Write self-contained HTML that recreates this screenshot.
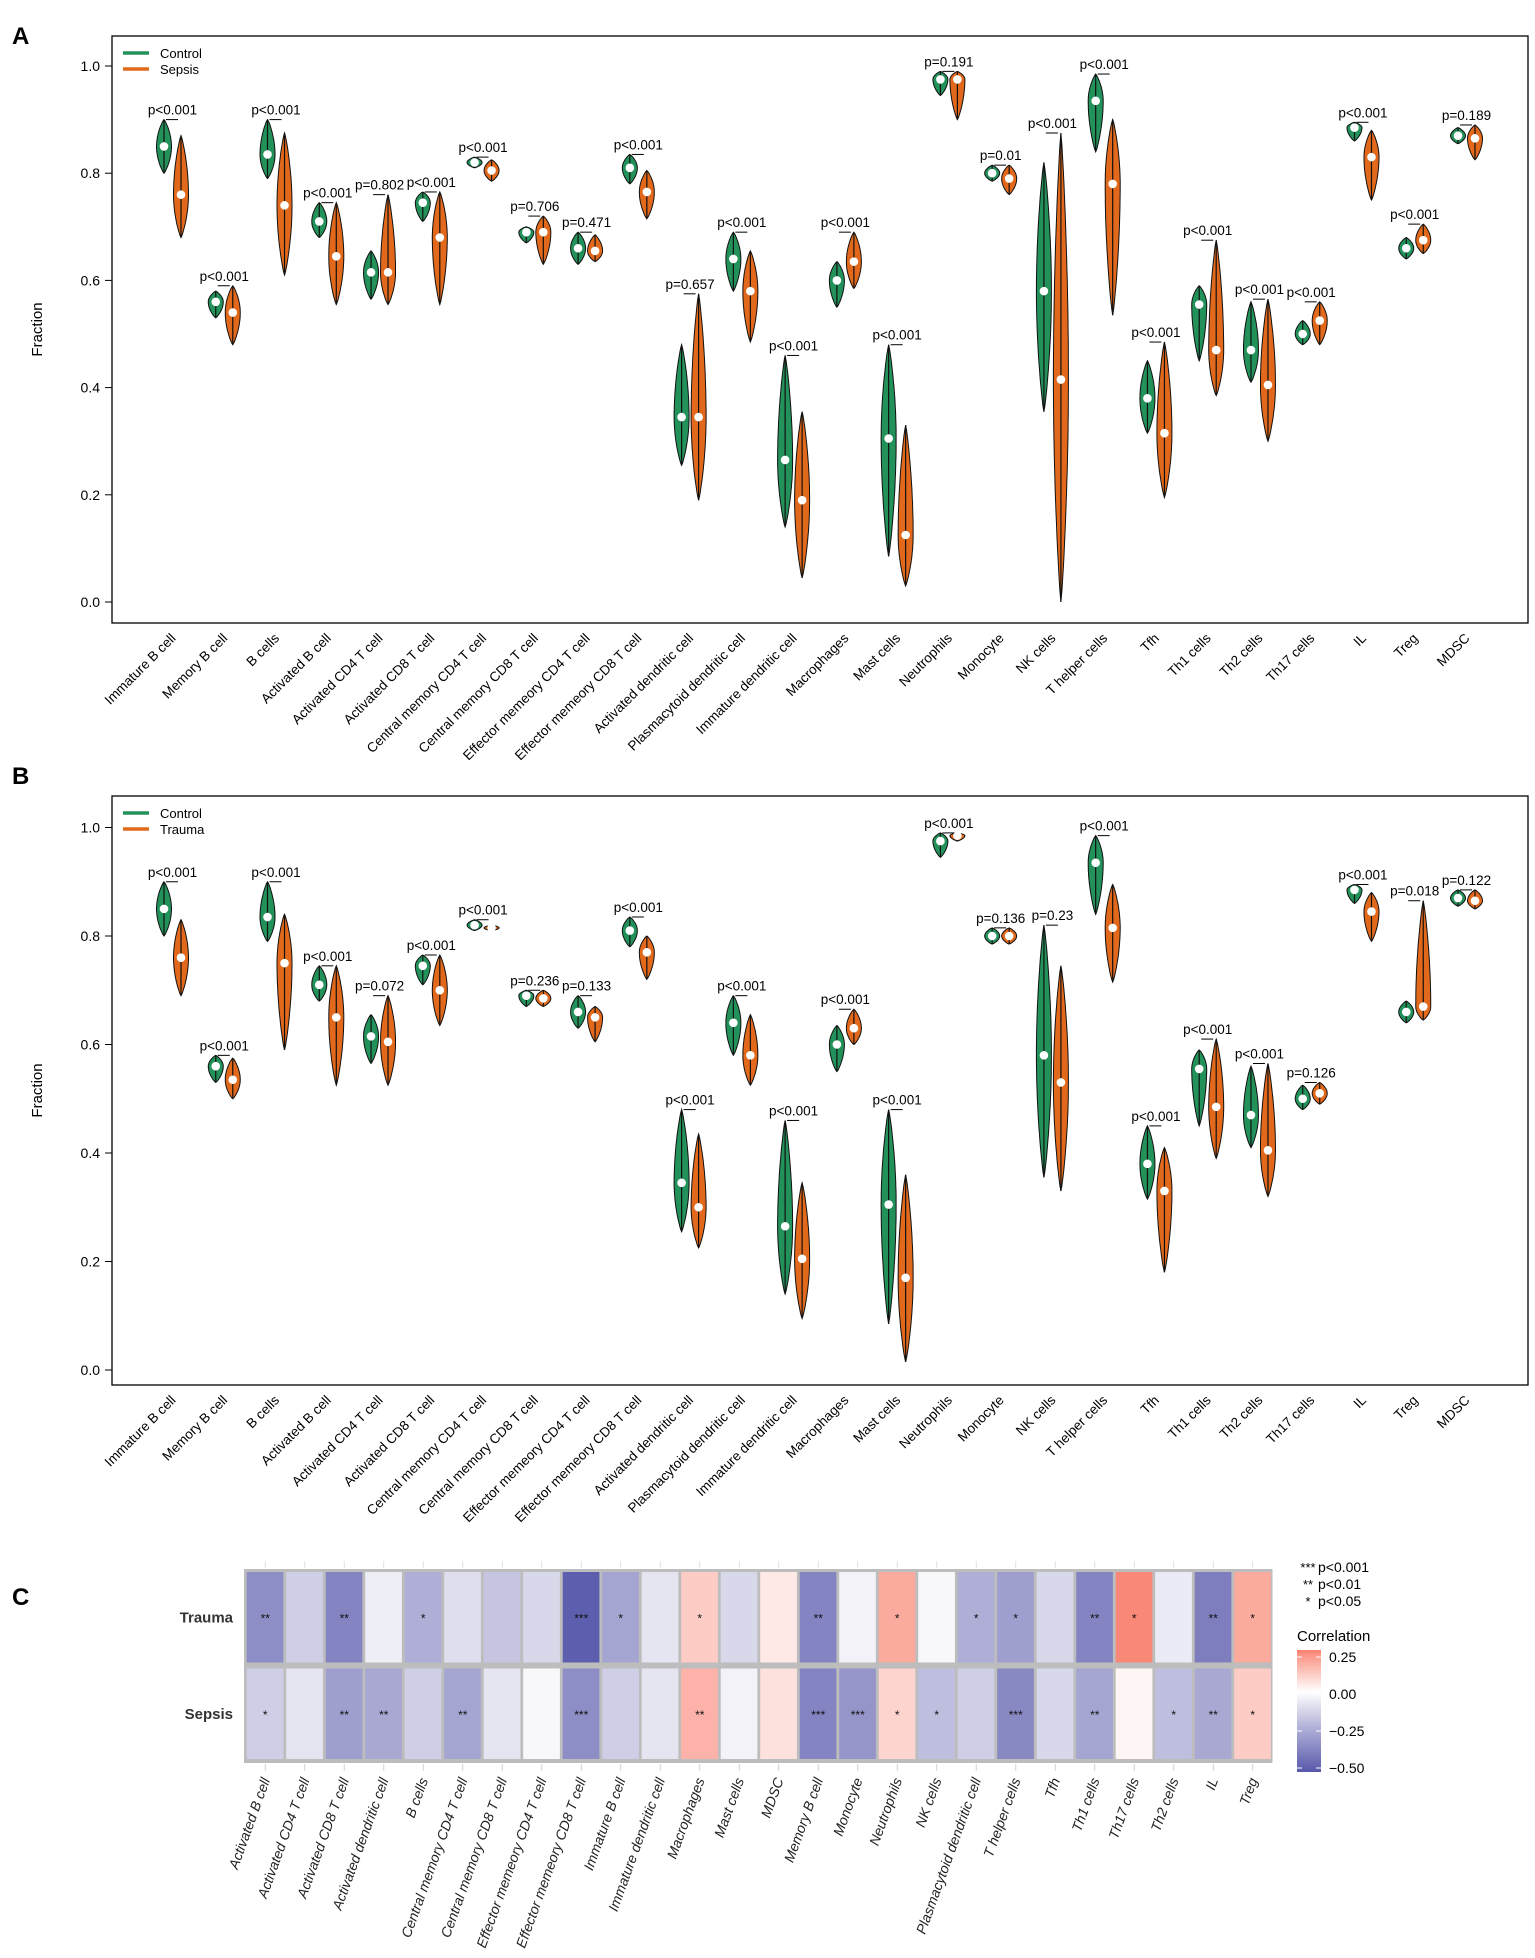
<!DOCTYPE html>
<html><head><meta charset="utf-8">
<style>
html,body{margin:0;padding:0;background:#fff;}
svg{display:block;font-family:"Liberation Sans",Arial,sans-serif;}
</style></head>
<body>
<svg id="fig" width="1535" height="1958" viewBox="0 0 1535 1958" xmlns="http://www.w3.org/2000/svg">
<text x="12" y="44" font-size="24" font-weight="bold">A</text>
<text x="12" y="784" font-size="24" font-weight="bold">B</text>
<text x="12" y="1605" font-size="24" font-weight="bold">C</text>
<g id="panelA"></g>
<g id="panelB"></g>
<g id="panelC"></g>
</svg>
<script>
const categories = ["Immature  B cell","Memory B cell","B cells","Activated B cell","Activated CD4 T cell","Activated CD8 T cell","Central memory CD4 T cell","Central memory CD8 T cell","Effector memeory CD4 T cell","Effector memeory CD8 T cell","Activated dendritic cell","Plasmacytoid dendritic cell","Immature dendritic cell","Macrophages","Mast cells","Neutrophils","Monocyte","NK cells","T helper cells","Tfh","Th1 cells","Th2 cells","Th17 cells","IL","Treg","MDSC"];
// [min, median, max]
const controlVals = [[0.80,0.85,0.90],[0.53,0.56,0.58],[0.79,0.835,0.90],[0.68,0.71,0.745],[0.565,0.615,0.655],[0.71,0.745,0.765],[0.81,0.82,0.83],[0.67,0.69,0.70],[0.63,0.66,0.69],[0.78,0.81,0.835],[0.255,0.345,0.48],[0.58,0.64,0.69],[0.14,0.265,0.46],[0.55,0.60,0.635],[0.085,0.305,0.48],[0.945,0.975,0.99],[0.785,0.80,0.815],[0.355,0.58,0.82],[0.84,0.935,0.985],[0.315,0.38,0.45],[0.45,0.555,0.59],[0.41,0.47,0.56],[0.48,0.50,0.525],[0.86,0.885,0.895],[0.64,0.66,0.68],[0.855,0.87,0.885]];
const sepsisVals = [[0.68,0.76,0.87],[0.48,0.54,0.59],[0.61,0.74,0.875],[0.555,0.645,0.745],[0.555,0.615,0.76],[0.555,0.68,0.765],[0.785,0.805,0.825],[0.63,0.69,0.72],[0.635,0.655,0.685],[0.715,0.765,0.805],[0.19,0.345,0.575],[0.485,0.58,0.655],[0.045,0.19,0.355],[0.585,0.635,0.69],[0.03,0.125,0.33],[0.90,0.975,0.99],[0.76,0.79,0.815],[0.0,0.415,0.875],[0.535,0.78,0.90],[0.195,0.315,0.485],[0.385,0.47,0.675],[0.30,0.405,0.565],[0.48,0.525,0.56],[0.75,0.83,0.88],[0.65,0.675,0.705],[0.825,0.865,0.89]];
const sepsisP = ["p<0.001","p<0.001","p<0.001","p<0.001","p=0.802","p<0.001","p<0.001","p=0.706","p=0.471","p<0.001","p=0.657","p<0.001","p<0.001","p<0.001","p<0.001","p=0.191","p=0.01","p<0.001","p<0.001","p<0.001","p<0.001","p<0.001","p<0.001","p<0.001","p<0.001","p=0.189"];
const traumaVals = [[0.69,0.76,0.83],[0.50,0.535,0.575],[0.59,0.75,0.84],[0.525,0.65,0.745],[0.525,0.605,0.69],[0.635,0.70,0.765],[0.81,0.815,0.82],[0.67,0.685,0.70],[0.605,0.65,0.67],[0.72,0.77,0.80],[0.225,0.30,0.435],[0.525,0.58,0.655],[0.095,0.205,0.345],[0.60,0.63,0.665],[0.015,0.17,0.36],[0.975,0.985,0.99],[0.785,0.80,0.815],[0.33,0.53,0.745],[0.715,0.815,0.895],[0.18,0.33,0.41],[0.39,0.485,0.61],[0.32,0.405,0.565],[0.49,0.51,0.53],[0.79,0.845,0.88],[0.645,0.67,0.865],[0.85,0.865,0.885]];
const traumaP = ["p<0.001","p<0.001","p<0.001","p<0.001","p=0.072","p<0.001","p<0.001","p=0.236","p=0.133","p<0.001","p<0.001","p<0.001","p<0.001","p<0.001","p<0.001","p<0.001","p=0.136","p=0.23","p<0.001","p<0.001","p<0.001","p<0.001","p=0.126","p<0.001","p=0.018","p=0.122"];
const yTicks = [0.0,0.2,0.4,0.6,0.8,1.0];
const yTickLabels = ["0.0","0.2","0.4","0.6","0.8","1.0"];

const heatCols = ["Activated B cell","Activated CD4 T cell","Activated CD8 T cell","Activated dendritic cell","B cells","Central memory CD4 T cell","Central memory CD8 T cell","Effector memeory CD4 T cell","Effector memeory CD8 T cell","Immature  B cell","Immature dendritic cell","Macrophages","Mast cells","MDSC","Memory B cell","Monocyte","Neutrophils","NK cells","Plasmacytoid dendritic cell","T helper cells","Tfh","Th1 cells","Th17 cells","Th2 cells","IL","Treg"];
const heatRows = ["Trauma","Sepsis"];
const traumaCorr = [-0.35,-0.15,-0.38,-0.05,-0.25,-0.1,-0.18,-0.12,-0.5,-0.28,-0.08,0.12,-0.12,0.05,-0.38,-0.04,0.2,-0.02,-0.25,-0.3,-0.12,-0.38,0.28,-0.06,-0.4,0.2];
const sepsisCorr = [-0.15,-0.08,-0.3,-0.27,-0.15,-0.28,-0.08,-0.02,-0.35,-0.15,-0.08,0.18,-0.04,0.07,-0.38,-0.33,0.1,-0.2,-0.15,-0.37,-0.12,-0.28,0.02,-0.2,-0.27,0.12];
const traumaStars = ["**","","**","","*","","","","***","*","","*","","","**","","*","","*","*","","**","*","","**","*"];
const sepsisStars = ["*","","**","**","","**","","","***","","","**","","","***","***","*","*","","***","","**","","*","**","*"];

const NS = "http://www.w3.org/2000/svg";
const GREEN = "#23915a", ORANGE = "#e2691c";
function mk(parent, tag, attrs, text){
  const e = document.createElementNS(NS, tag);
  for (const k in attrs) e.setAttribute(k, attrs[k]);
  if (text !== undefined) e.textContent = text;
  parent.appendChild(e);
  return e;
}

function violinPath(x, yS, v, hw){
  const [mn, md, mx] = v;
  const N = 40, left = [], right = [];
  for (let i = 0; i <= N; i++){
    const s = i / N;
    let val;
    if (s <= 0.5) val = mn + (md - mn) * (s / 0.5);
    else val = md + (mx - md) * ((s - 0.5) / 0.5);
    const w = hw * Math.pow(Math.sin(Math.PI * s), 0.8);
    const y = yS(val);
    left.push([x - w, y]); right.push([x + w, y]);
  }
  let d = "M" + left.map(p => p[0].toFixed(1) + "," + p[1].toFixed(1)).join("L");
  d += "L" + right.reverse().map(p => p[0].toFixed(1) + "," + p[1].toFixed(1)).join("L") + "Z";
  return d;
}

function drawPanel(gid, top, bottom, y0, y1, caseVals, pvals, caseName){
  const g = document.getElementById(gid);
  const left = 112, right = 1528;
  const yS = v => y0 + (y1 - y0) * v;
  const xS = i => 164 + i * 51.76;
  mk(g, "rect", {x:left, y:top, width:right-left, height:bottom-top, fill:"none", stroke:"#000", "stroke-width":1.3});
  yTicks.forEach((t, i) => {
    const y = yS(t);
    const tk = mk(g, "line", {x1:left-7, x2:left, y1:y, y2:y, stroke:"#000", "stroke-width":1});
    
    
    const tl = mk(g, "text", {x:left-12, y:y+5, "font-size":14, "text-anchor":"end"}, yTickLabels[i]);
    
    
  });
  const yc = (top + bottom) / 2;
  const yl = mk(g, "text", {x:0, y:0, "font-size":15, "text-anchor":"middle", transform:`translate(42,${yc}) rotate(-90)`}, "Fraction");
  
  
  // legend
  const lg = mk(g, "g", {});
  
  
  mk(lg, "line", {x1:123, x2:149, y1:top+17, y2:top+17, stroke:GREEN, "stroke-width":3.5});
  mk(lg, "text", {x:160, y:top+22, "font-size":13}, "Control");
  mk(lg, "line", {x1:123, x2:149, y1:top+33, y2:top+33, stroke:ORANGE, "stroke-width":3.5});
  mk(lg, "text", {x:160, y:top+38, "font-size":13}, caseName);

  categories.forEach((c, i) => {
    const gx = xS(i), ox = gx + 17;
    [[controlVals[i], gx, GREEN, "control"], [caseVals[i], ox, ORANGE, caseName.toLowerCase()]].forEach(([v, x, col, nm]) => {
      const vg = mk(g, "g", {});
      
      
      mk(vg, "path", {d:violinPath(x, yS, v, 7.5), fill:col, stroke:"#111", "stroke-width":1});
      mk(vg, "line", {x1:x, x2:x, y1:yS(v[0]), y2:yS(v[2]), stroke:"#111", "stroke-width":1.2});
      mk(vg, "circle", {cx:x, cy:yS(v[1]), r:4.3, fill:"#fff"});
    });
    const mx = Math.max(controlVals[i][2], caseVals[i][2]);
    const by = yS(mx);
    const br = mk(g, "line", {x1:gx+2, x2:ox-3, y1:by, y2:by, stroke:"#000", "stroke-width":1});
    
    
    const pt = mk(g, "text", {x:(gx+ox)/2, y:by-5, "font-size":13.5, "text-anchor":"middle"}, pvals[i]);
    
    
    const cx = (gx + ox) / 2 + 4;
    const xl = mk(g, "text", {x:0, y:0, "font-size":13.5, "text-anchor":"end", transform:`translate(${cx},${bottom+16}) rotate(-45)`}, c);
    
    
  });
}
drawPanel("panelA", 36, 623, 602, 66, sepsisVals, sepsisP, "Sepsis");
drawPanel("panelB", 796, 1385, 1370, 827.5, traumaVals, traumaP, "Trauma");

function corrColor(v){
  let r, g, b;
  if (v < 0){ const t = Math.min(1, -v / 0.52); r = 255 - t*167; g = 255 - t*167; b = 255 - t*83; }
  else { const t = Math.min(1, v / 0.3); r = 255 - t*5; g = 255 - t*127; b = 255 - t*145; }
  return `rgb(${r|0},${g|0},${b|0})`;
}
(function(){
  const g = document.getElementById("panelC");
  const x0 = 244, cw = 39.5, rowTop = [1569, 1665.5], rh = 96.5;
  mk(g, "rect", {x:x0, y:1569, width:cw*heatCols.length+1.5, height:194, fill:"#bdbdbd"});
  const rowsData = [traumaCorr, sepsisCorr], rowsStars = [traumaStars, sepsisStars];
  heatCols.forEach((c, j) => {
    const cx = x0 + 1.5 + cw * j + cw / 2;
    mk(g, "line", {x1:cx, x2:cx, y1:1561, y2:1568, stroke:"#e0e0e0", "stroke-width":1});
    mk(g, "line", {x1:cx, x2:cx, y1:1764, y2:1771, stroke:"#d0d0d0", "stroke-width":1});
    const lbl = mk(g, "text", {x:0, y:0, "font-size":14, "font-style":"italic", "text-anchor":"end", fill:"#222", transform:`translate(${cx+5},${1780}) rotate(-70)`}, c);
    
    
  });
  heatRows.forEach((rn, r) => {
    const ry = rowTop[r];
    const rl = mk(g, "text", {x:233, y:ry + rh/2 + 5, "font-size":15, "font-weight":"bold", "text-anchor":"end", fill:"#333"}, rn);
    
    
    heatCols.forEach((c, j) => {
      const cell = mk(g, "rect", {x:x0 + 1.5 + cw*j + 1.2, y:ry + 3, width:cw - 2.8, height:rh - 6, fill:corrColor(rowsData[r][j])});
      
      
      if (rowsStars[r][j]){
        const st = mk(g, "text", {x:x0 + 1.5 + cw*j + cw/2, y:ry + rh/2 + 5, "font-size":12, "text-anchor":"middle", fill:"#111"}, rowsStars[r][j]);
        
        
      }
    });
  });
  // significance legend
  const sl = mk(g, "g", {});
  
  
  [["***","p<0.001",1572],["**","p<0.01",1589],["*","p<0.05",1606]].forEach(([s,t,y]) => {
    mk(sl, "text", {x:1308, y:y, "font-size":13, "text-anchor":"middle"}, s);
    mk(sl, "text", {x:1318, y:y, "font-size":14}, t);
  });
  mk(g, "text", {x:1297, y:1641, "font-size":15}, "Correlation");
  const defs = mk(g, "defs", {});
  const lgd = mk(defs, "linearGradient", {id:"cg", x1:0, y1:0, x2:0, y2:1});
  [[0.30,0],[0.25,0.041],[0,0.344],[-0.25,0.648],[-0.52,1]].forEach(([v,o]) => mk(lgd, "stop", {offset:o, "stop-color":corrColor(v)}));
  const bar = mk(g, "rect", {x:1297, y:1650, width:24, height:122, fill:"url(#cg)"});
  
  
  [["0.25",1657],["0.00",1694],["\u22120.25",1731],["\u22120.50",1768]].forEach(([t,y]) => {
    mk(g, "line", {x1:1297, x2:1302, y1:y, y2:y, stroke:"#fff", "stroke-width":1});
    mk(g, "line", {x1:1316, x2:1321, y1:y, y2:y, stroke:"#fff", "stroke-width":1});
    mk(g, "text", {x:1329, y:y+5, "font-size":14}, t);
  });
})();
</script>
</body></html>
